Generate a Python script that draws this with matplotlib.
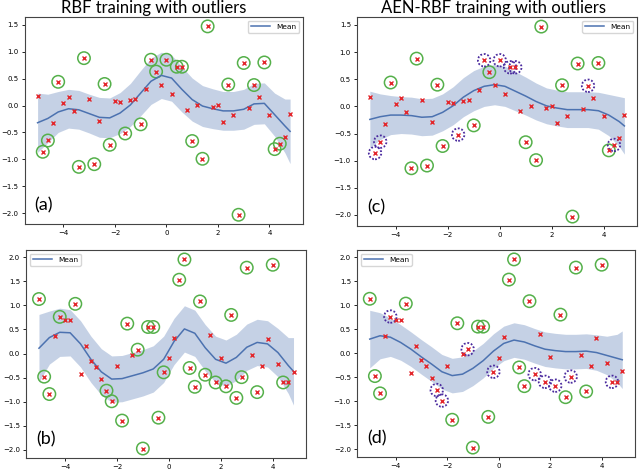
import numpy as np
import matplotlib
matplotlib.use("Agg")
from matplotlib import pyplot as plt

# training inputs (same grid for all panels)
x_pts = np.linspace(-5.0, 4.8, 50)

# top row data (a), (c)
y_top = [0.17, -0.86, -0.65, -0.33, 0.44, 0.04, 0.15, -0.11, -1.14, 0.88,
         0.12, -1.09, -0.28, 0.40, -0.73, 0.09, 0.07, -0.52, 0.10, 0.12,
         -0.35, 0.30, 0.85, 0.63, 0.39, 0.85, 0.22, 0.72, 0.72, -0.08,
         -0.66, 0.01, -0.99, 1.47, -0.03, 0.01, -0.30, 0.39, -0.17, -2.03,
         0.79, -0.04, 0.38, 0.15, 0.80, -0.18, -0.81, -0.71, -0.58, -0.15]
out_top = [-4.8, -4.6, -4.2, -3.4, -3.2, -2.8, -2.4, -2.2, -1.6, -1.0, -0.6, -0.4,
           0.0, 0.4, 0.6, 1.0, 1.4, 1.6, 2.4, 2.8, 3.0, 3.4, 3.8, 4.2, 4.4]
flag_c = [-4.8, -4.6, -1.6, -0.6, 0.0, 0.4, 0.6, 3.4, 4.4]

# bottom row data (b), (d)
y_bot = [1.13, -0.48, -0.84, 0.36, 0.76, 0.69, 0.69, 1.03, -0.42, 0.15,
         -0.15, -0.27, -0.53, -0.77, -0.99, -0.26, -1.39, 0.62, -0.03, 0.08,
         -1.97, 0.55, 0.55, -1.33, -0.39, -0.10, 0.33, 1.53, 1.95, -0.30,
         -0.69, 1.08, -0.44, 0.39, -0.60, -0.09, -0.68, 0.80, -0.92, -0.49,
         1.78, -0.04, -0.80, -0.26, 0.31, 1.84, -0.21, -0.60, -0.60, -0.38]
out_bot = [-5.0, -4.8, -4.6, -4.2, -3.6, -2.4, -2.2, -1.8, -1.6, -1.2, -1.0, -0.8,
           -0.6, -0.4, -0.2, 0.4, 0.6, 0.8, 1.0, 1.2, 1.4, 1.8, 2.2, 2.4, 2.6,
           2.8, 3.0, 3.4, 4.0, 4.4]
flag_d = [-4.2, -2.4, -2.2, -1.2, -0.2, 1.4, 1.8, 2.2, 2.8, 4.4]

# predictive mean / std
x_mean = [-5.0, -4.6, -4.2, -3.8, -3.4, -3.0, -2.6, -2.2, -1.8, -1.4, -1.0, -0.6, -0.2,
          0.2, 0.6, 1.0, 1.4, 1.8, 2.2, 2.6, 3.0, 3.4, 3.8, 4.2, 4.6, 4.8]
mean_a = [-0.32, -0.24, -0.12, -0.06, -0.08, -0.15, -0.22, -0.23, -0.14, 0.01, 0.23, 0.45, 0.56,
          0.51, 0.30, 0.11, -0.01, -0.06, -0.10, -0.10, -0.07, 0.03, 0.04, -0.17, -0.38, -0.48]
std_a = [0.55, 0.45, 0.38, 0.36, 0.36, 0.36, 0.37, 0.37, 0.38, 0.40, 0.42, 0.43, 0.43,
         0.43, 0.42, 0.40, 0.38, 0.37, 0.36, 0.36, 0.37, 0.38, 0.38, 0.40, 0.50, 0.60]
mean_c = [-0.24, -0.19, -0.16, -0.16, -0.17, -0.20, -0.19, -0.11, 0.01, 0.17, 0.29, 0.37, 0.40,
          0.37, 0.28, 0.19, 0.09, 0.01, -0.03, -0.06, -0.06, -0.06, -0.08, -0.16, -0.28, -0.36]
std_c = [0.52, 0.42, 0.36, 0.34, 0.34, 0.34, 0.34, 0.34, 0.35, 0.36, 0.37, 0.37, 0.37,
         0.37, 0.36, 0.35, 0.34, 0.33, 0.33, 0.33, 0.33, 0.33, 0.34, 0.38, 0.46, 0.52]
mean_b = [0.11, 0.33, 0.44, 0.43, 0.20, -0.12, -0.38, -0.53, -0.52, -0.46, -0.40, -0.32, -0.12,
          0.25, 0.51, 0.42, 0.12, -0.12, -0.20, -0.08, 0.13, 0.23, 0.20, 0.02, -0.25, -0.37]
std_b = [0.70, 0.55, 0.50, 0.48, 0.48, 0.48, 0.48, 0.48, 0.48, 0.48, 0.48, 0.48, 0.48,
         0.48, 0.48, 0.48, 0.48, 0.48, 0.48, 0.48, 0.48, 0.48, 0.48, 0.50, 0.58, 0.70]
mean_d = [0.29, 0.36, 0.33, 0.22, 0.08, -0.08, -0.23, -0.39, -0.47, -0.44, -0.32, -0.16, 0.04,
          0.20, 0.27, 0.23, 0.15, 0.08, 0.05, 0.03, 0.03, 0.04, 0.01, -0.05, -0.11, -0.14]
std_d = [0.60, 0.48, 0.40, 0.37, 0.36, 0.36, 0.36, 0.36, 0.36, 0.36, 0.36, 0.36, 0.36,
         0.36, 0.36, 0.36, 0.36, 0.36, 0.36, 0.36, 0.36, 0.36, 0.37, 0.40, 0.50, 0.60]

LINE = "#4c72b0"
GREEN = "#55b04a"
PURPLE = "#4a2a9e"
RED = "#e3262b"
TXT_FONT = ["Lato", "DejaVu Sans"]


def panel(ax, y, mean, std, outliers, flagged, label, legend_loc):
    xm = np.asarray(x_mean)
    m = np.asarray(mean)
    s = np.asarray(std)
    y = np.asarray(y)
    xr = np.round(x_pts, 1)
    ax.fill_between(xm, m - s, m + s, color=LINE, alpha=0.32, lw=0)
    ax.plot(xm, m, color=LINE, lw=1.1, label="Mean")
    ax.plot(x_pts, y, "x", color=RED, ms=3.2, mew=1.0)
    green = np.isin(xr, outliers) & ~np.isin(xr, flagged)
    purple = np.isin(xr, flagged)
    ax.scatter(x_pts[green], y[green], s=80, facecolors="none",
               edgecolors=GREEN, linewidths=1.1)
    if purple.any():
        ax.scatter(x_pts[purple], y[purple], s=80, facecolors="none",
                   edgecolors=PURPLE, linewidths=1.3, linestyle=(0, (1, 1)))
    ax.tick_params(labelsize=5, length=2.5, width=0.6, pad=2)
    for sp in ax.spines.values():
        sp.set_linewidth(0.8)
        sp.set_color("#444444")
    ax.legend(loc=legend_loc, fontsize=5.3, handlelength=2.6)
    ax.text(0.035, 0.05, label, transform=ax.transAxes, fontsize=13,
            family=TXT_FONT, ha="left", va="bottom")


fig = plt.figure(figsize=(6.4, 4.71), dpi=100)
ax_a = fig.add_axes([0.039, 0.524, 0.434, 0.440])
ax_c = fig.add_axes([0.558, 0.520, 0.4375, 0.4437])
ax_b = fig.add_axes([0.041, 0.0276, 0.4375, 0.4416])
ax_d = fig.add_axes([0.558, 0.0297, 0.434, 0.4395])

panel(ax_a, y_top, mean_a, std_a, out_top, [], "(a)", "upper right")
panel(ax_c, y_top, mean_c, std_c, out_top, flag_c, "(c)", "upper right")
panel(ax_b, y_bot, mean_b, std_b, out_bot, [], "(b)", "upper left")
panel(ax_d, y_bot, mean_d, std_d, out_bot, flag_d, "(d)", "upper left")

fig.text(0.24, 0.972, "RBF training with outliers", ha="center", va="baseline",
         fontsize=12, family=TXT_FONT)
fig.text(0.771, 0.972, "AEN-RBF training with outliers", ha="center", va="baseline",
         fontsize=12, family=TXT_FONT)

fig.savefig("out.png", dpi=100)
